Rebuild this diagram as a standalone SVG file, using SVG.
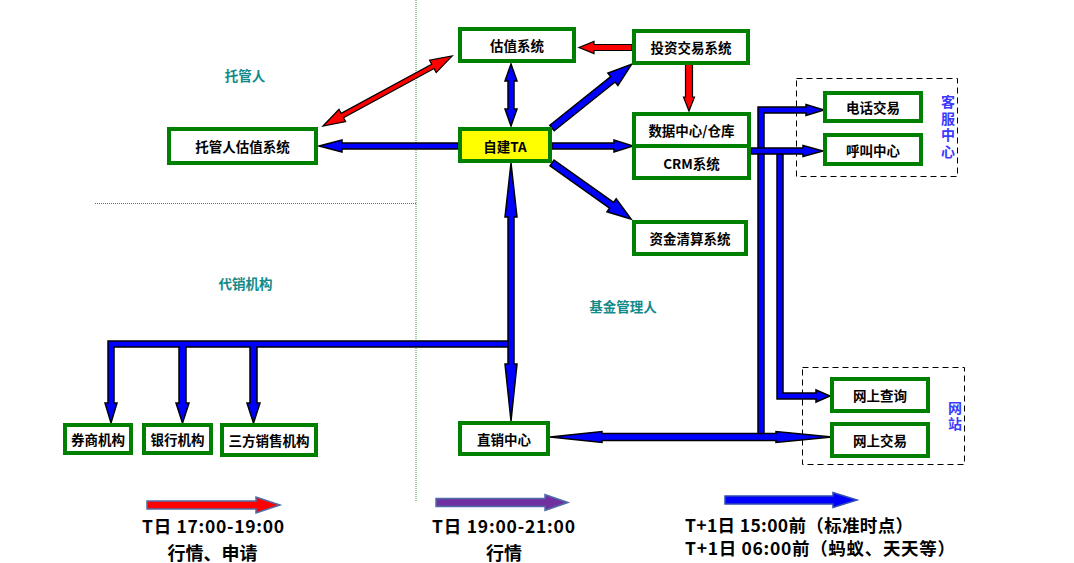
<svg xmlns="http://www.w3.org/2000/svg" width="1074" height="563" viewBox="0 0 1074 563">
<style>
.box{fill:#fff;stroke:#008000;stroke-width:4}
.ta{fill:#ffff00;stroke:#008000;stroke-width:4}
.n{font-family:"Noto Sans CJK SC","Liberation Sans",sans-serif;font-weight:bold;font-size:13.5px;fill:#000;text-anchor:middle;dominant-baseline:central}
.lbl{font-family:"Noto Sans CJK SC","Liberation Sans",sans-serif;font-weight:bold;font-size:13.5px;fill:#128a8a;text-anchor:middle;dominant-baseline:central}
.vt{font-family:"Noto Sans CJK SC","Liberation Sans",sans-serif;font-weight:bold;font-size:14px;fill:#3a3aff;text-anchor:middle;writing-mode:vertical-rl;letter-spacing:2.5px}
.leg{font-family:"Noto Sans CJK SC","Liberation Sans",sans-serif;font-weight:bold;font-size:17.5px;fill:#000}
.blue{fill:#0000ff;stroke:#000;stroke-width:1.5;stroke-linejoin:miter}
.red{fill:#ff0000;stroke:#000;stroke-width:1.2}
.dash{fill:none;stroke:#000;stroke-width:1;stroke-dasharray:6,4}
.div{fill:none;stroke:#3a9a3a;stroke-width:1;stroke-dasharray:1,1}
</style>

<g id="dividers">
<line class="div" x1="416" y1="0" x2="416" y2="502"/>
<line class="div" x1="95" y1="203.5" x2="416" y2="203.5"/>
</g>

<g id="region-labels">
<text class="lbl" x="245" y="75">托管人</text>
<text class="lbl" x="245.5" y="283">代销机构</text>
<text class="lbl" x="623" y="306">基金管理人</text>
</g>

<g id="groups">
<rect id="kefu-group" class="dash" x="796.5" y="78.5" width="161" height="98"/>
<text class="vt" x="948" y="128">客服中心</text>
<rect id="wangzhan-group" class="dash" x="802.5" y="367.5" width="162" height="97"/>
<text class="vt" x="955" y="417">网站</text>
</g>

<g id="connectors">
<!-- TA -> 托管人估值系统 -->
<path class="blue" d="M458,143 H342 V140 L319,146 L342,152 V149 H458 Z"/>
<!-- 估值系统 <-> TA -->
<path class="blue" d="M511,64 L517,81 H514 V109 H517 L511,126 L505,109 H508 V81 H505 Z"/>
<!-- 投资交易系统 -> 估值系统 -->
<path class="red" d="M632,44.5 H594 V41.5 L579,47.5 L594,53.5 V50.5 H632 Z"/>
<!-- 投资交易系统 -> 数据中心 -->
<path class="red" d="M685.5,63 V97 H683.5 L689,111 L694.5,97 H692.5 V63 Z"/>
<!-- 托管人估值系统 <-> 估值系统 -->
<path class="red" transform="translate(323,126) rotate(-28.48)" d="M0,0 L22,-7 V-2.5 H125 V-7 L147,0 L125,7 V2.5 H22 V7 Z"/>
<!-- TA -> 投资交易系统 -->
<path class="blue" transform="translate(552,128) rotate(-38.66)" d="M0,-3.5 H78 V-8 L102,0 L78,8 V3.5 H0 Z"/>
<!-- TA -> 数据中心 -->
<path class="blue" d="M552,143 H614 V140 L633,146 L614,152 V149 H552 Z"/>
<!-- TA -> 资金清算系统 -->
<path class="blue" transform="translate(552,163) rotate(35.33)" d="M0,-3.5 H73 V-8 L97,0 L73,8 V3.5 H0 Z"/>
<!-- trunk -> 电话交易 -->
<path class="blue" d="M758,435 V107 H806 V104.5 L824,110 L806,115.5 V113 H764 V435 Z"/>
<!-- trunk -> 网上查询 -->
<path class="blue" d="M777,154 V399 H816 V402 L830,396 L816,390 V393 H783 V154 Z"/>
<!-- CRM -> 呼叫中心 -->
<path class="blue" d="M751,148 H803 V145.5 L823,151 L803,156.5 V154 H751 Z"/>
<!-- 直销中心 <-> 网上交易 -->
<path class="blue" d="M550,437 L602,431.5 V433.5 H776 V431.5 L832,437 L776,442.5 V440.5 H602 V442.5 Z"/>
<!-- 代销 branch -->
<path class="blue" d="M108,341 H509 V347 H257 V403 H260 L253.5,423 L247,403 H250 V347 H186 V403 H189 L182.5,423 L176,403 H179 V347 H114 V403 H117 L111,423 L105,403 H108 Z"/>
<!-- TA <-> 直销中心 vertical -->
<path class="blue" d="M511,163 L517,217 H514 V364 H517 L511,421 L505,364 H508 V217 H505 Z"/>
</g>

<g id="node-guzhi"><rect class="box" x="460" y="29" width="114" height="32"/><text class="n" x="517" y="45">估值系统</text></g>
<g id="node-touzi"><rect class="box" x="634" y="31" width="114" height="32"/><text class="n" x="691" y="47">投资交易系统</text></g>
<g id="node-tuoguan"><rect class="box" x="169" y="129" width="147" height="34"/><text class="n" x="242.5" y="146">托管人估值系统</text></g>
<g id="node-ta"><rect class="ta" x="460" y="129" width="90" height="32"/><text class="n" x="505" y="145.5">自建TA</text></g>
<g id="node-data"><rect class="box" x="634" y="114" width="115" height="32"/><text class="n" x="691.5" y="130">数据中心/仓库</text></g>
<g id="node-crm"><rect class="box" x="634" y="146" width="115" height="32"/><text class="n" x="691.5" y="162.5">CRM系统</text></g>
<g id="node-zijin"><rect class="box" x="634" y="222" width="112" height="32"/><text class="n" x="690" y="238">资金清算系统</text></g>
<g id="node-dianhua"><rect class="box" x="825" y="93" width="96" height="28"/><text class="n" x="873" y="107">电话交易</text></g>
<g id="node-hujiao"><rect class="box" x="825" y="135" width="96" height="29"/><text class="n" x="873" y="149.5">呼叫中心</text></g>
<g id="node-quanshang"><rect class="box" x="65" y="425" width="66" height="28"/><text class="n" x="98" y="439">券商机构</text></g>
<g id="node-yinhang"><rect class="box" x="144" y="425" width="67" height="28"/><text class="n" x="177.5" y="439">银行机构</text></g>
<g id="node-sanfang"><rect class="box" x="222" y="425" width="94" height="30"/><text class="n" x="269" y="440">三方销售机构</text></g>
<g id="node-zhixiao"><rect class="box" x="460" y="423" width="88" height="31"/><text class="n" x="504" y="438.5">直销中心</text></g>
<g id="node-wscx"><rect class="box" x="832" y="379" width="96" height="32"/><text class="n" x="880" y="395">网上查询</text></g>
<g id="node-wsjy"><rect class="box" x="832" y="424" width="96" height="32"/><text class="n" x="880" y="440">网上交易</text></g>

<g id="legend">
<path d="M147,501 H256 V497 L280,505 L256,513 V509 H147 Z" fill="#ff0000" stroke="#4f6ea8" stroke-width="1.5"/>
<path d="M436,498.5 H545 V494.5 L568,502.5 L545,510.5 V506.5 H436 Z" fill="#7030a0" stroke="#4f6ea8" stroke-width="1.5"/>
<path d="M725,496 H833 V492.5 L857,500 L833,507.5 V504 H725 Z" fill="#0000ff" stroke="#2f4fb0" stroke-width="1.5"/>
<text class="leg" x="142" y="533" textLength="142" lengthAdjust="spacing">T日 17:00-19:00</text>
<text class="leg" x="212.5" y="560" text-anchor="middle" style="font-size:18px">行情、申请</text>
<text class="leg" x="432" y="533" textLength="143" lengthAdjust="spacing">T日 19:00-21:00</text>
<text class="leg" x="504" y="560" text-anchor="middle" style="font-size:18px">行情</text>
<text class="leg" x="685" y="532" textLength="228" lengthAdjust="spacing">T+1日 15:00前（标准时点）</text>
<text class="leg" x="685" y="555" textLength="270" lengthAdjust="spacing">T+1日 06:00前（蚂蚁、天天等）</text>
</g>
</svg>
